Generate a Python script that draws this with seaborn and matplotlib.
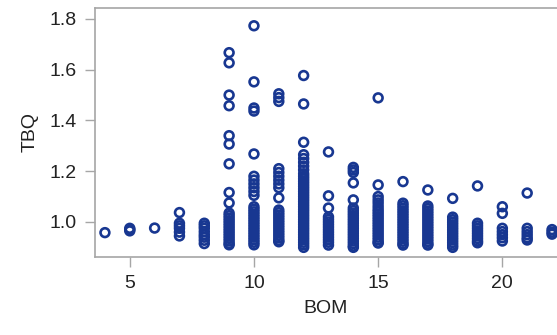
import matplotlib
matplotlib.use("Agg")
import matplotlib.pyplot as plt
import seaborn as sns
import pandas as pd

# TBQ values observed at each BOM value
tbq_4 = [0.958]
tbq_5 = [0.965, 0.970, 0.975]
tbq_6 = [0.976]
tbq_7 = [1.037, 0.995, 0.985, 0.975, 0.960, 0.945]
tbq_8 = [0.995, 0.985, 0.975, 0.962, 0.950, 0.940, 0.928, 0.915]
tbq_9 = [1.667, 1.627, 1.500, 1.458, 1.340, 1.307, 1.229, 1.116, 1.075,
         1.035, 1.025, 1.015, 1.005, 0.995, 0.985, 0.975, 0.965, 0.955,
         0.945, 0.935, 0.925, 0.915, 0.910]
tbq_10 = [1.773, 1.552, 1.449, 1.437, 1.268, 1.180, 1.165, 1.150, 1.135,
          1.120, 1.105, 1.060, 1.050, 1.040, 1.030, 1.020, 1.010, 1.000,
          0.990, 0.980, 0.970, 0.960, 0.950, 0.940, 0.930, 0.920, 0.910]
tbq_11 = [1.505, 1.490, 1.475, 1.210, 1.195, 1.180, 1.165, 1.150, 1.135,
          1.095, 1.047, 1.037, 1.027, 1.017, 1.007, 0.997, 0.987, 0.977,
          0.967, 0.957, 0.947, 0.937, 0.927, 0.922]
tbq_12 = [1.577, 1.465, 1.314, 1.265, 1.250, 1.235, 1.220, 1.205, 1.190,
          1.180, 1.170, 1.160, 1.150, 1.140, 1.130, 1.120, 1.110, 1.100,
          1.090, 1.080, 1.070, 1.060, 1.050, 1.040, 1.030, 1.020, 1.010,
          1.000, 0.990, 0.980, 0.970, 0.960, 0.950, 0.940, 0.930, 0.920,
          0.910, 0.900]
tbq_13 = [1.276, 1.103, 1.055, 1.020, 1.010, 1.000, 0.990, 0.980, 0.970,
          0.960, 0.950, 0.940, 0.930, 0.920, 0.909]
tbq_14 = [1.215, 1.205, 1.195, 1.154, 1.087, 1.055, 1.045, 1.035, 1.025,
          1.015, 1.005, 0.995, 0.985, 0.975, 0.965, 0.955, 0.945, 0.935,
          0.925, 0.915, 0.905, 0.900]
tbq_15 = [1.489, 1.146, 1.100, 1.087, 1.075, 1.062, 1.050, 1.040, 1.030,
          1.020, 1.010, 1.000, 0.990, 0.980, 0.970, 0.960, 0.950, 0.940,
          0.930, 0.920, 0.917]
tbq_16 = [1.159, 1.074, 1.064, 1.054, 1.044, 1.034, 1.024, 1.014, 1.004,
          0.994, 0.984, 0.974, 0.964, 0.954, 0.944, 0.934, 0.924, 0.914,
          0.909]
tbq_17 = [1.126, 1.063, 1.053, 1.043, 1.033, 1.023, 1.013, 1.003, 0.993,
          0.983, 0.973, 0.963, 0.953, 0.943, 0.933, 0.923, 0.913, 0.909]
tbq_18 = [1.093, 1.019, 1.009, 0.999, 0.989, 0.979, 0.969, 0.959, 0.949,
          0.939, 0.929, 0.919, 0.909, 0.900]
tbq_19 = [1.142, 0.995, 0.985, 0.975, 0.965, 0.955, 0.945, 0.935, 0.925,
          0.918]
tbq_20 = [1.060, 1.034, 0.975, 0.962, 0.950, 0.938, 0.925]
tbq_21 = [1.114, 0.975, 0.962, 0.950, 0.938, 0.929]
tbq_22 = [0.970, 0.960, 0.952]

bom_values = list(range(4, 23))
tbq_columns = [tbq_4, tbq_5, tbq_6, tbq_7, tbq_8, tbq_9, tbq_10, tbq_11,
               tbq_12, tbq_13, tbq_14, tbq_15, tbq_16, tbq_17, tbq_18,
               tbq_19, tbq_20, tbq_21, tbq_22]

x_ticks = [5, 10, 15, 20]
y_ticks = [1.0, 1.2, 1.4, 1.6, 1.8]

rows = [(b, t) for b, col in zip(bom_values, tbq_columns) for t in col]
df = pd.DataFrame(rows, columns=["BOM", "TBQ"])

sns.set_style("white")
plt.rcParams["font.family"] = ["Liberation Sans", "DejaVu Sans"]

fig = plt.figure(figsize=(5.57, 3.35), dpi=100)
ax = fig.add_axes([95 / 557, 78 / 335, 1 - 95 / 557, (257 - 8) / 335])

sns.scatterplot(data=df, x="BOM", y="TBQ", ax=ax, marker="o",
                facecolor="none", edgecolor="#183791", linewidth=1.9, s=40)

ax.set_xlim(3.6, 22.2)
ax.set_ylim(0.862, 1.843)
ax.set_xticks(x_ticks)
ax.set_xticklabels([str(v) for v in x_ticks])
ax.set_yticks(y_ticks)
ax.set_yticklabels([f"{v:.1f}" for v in y_ticks])

grey = "#a6a6a6"
for side in ["left", "bottom", "top"]:
    ax.spines[side].set_color(grey)
    ax.spines[side].set_linewidth(1.2)
ax.spines["right"].set_visible(False)

ax.tick_params(axis="both", direction="out", length=7, width=1.0,
               color=grey, labelsize=14, labelcolor="#222222", pad=6,
               bottom=True, left=True)
ax.set_xlabel("BOM", fontsize=14, color="#222222", labelpad=6)
ax.set_ylabel("TBQ", fontsize=14, color="#222222", labelpad=8)

fig.savefig("out.png", dpi=100)
